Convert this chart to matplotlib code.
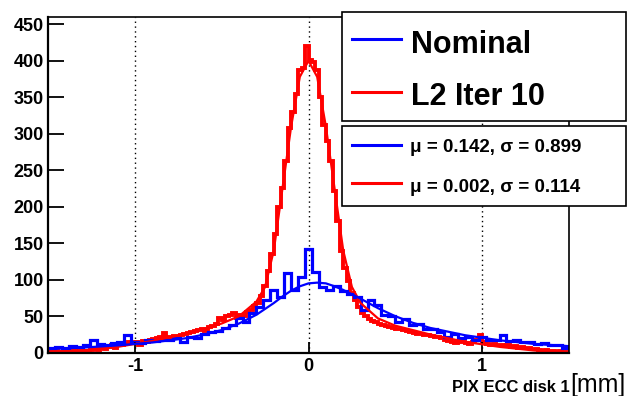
import matplotlib
matplotlib.use('Agg')
import matplotlib.pyplot as plt
from matplotlib.patches import Rectangle
from matplotlib.lines import Line2D
import numpy as np

plt.rcParams['font.family'] = ['Liberation Sans', 'DejaVu Sans']
plt.rcParams['axes.unicode_minus'] = False

# histogram range
x_lo, x_hi = -1.5, 1.5

# L2 Iter 10: 150 bins of 0.02 mm (rows of 10 bins = 0.2 mm)
red_counts = [
    2, 1, 2, 1, 0, 2, 1, 3, 1, 2,
    3, 2, 4, 5, 4, 6, 5, 8, 10, 7,
    11, 10, 12, 14, 13, 15, 11, 16, 15, 17,
    19, 20, 22, 27, 21, 20, 23, 22, 24, 25,
    27, 28, 30, 31, 33, 30, 35, 37, 40, 48,
    45, 50, 52, 55, 48, 52, 50, 56, 58, 64,
    68, 78, 92, 112, 135, 162, 200, 225, 262, 308,
    330, 355, 388, 390, 420, 401, 398, 388, 350, 312,
    290, 262, 222, 180, 140, 116, 98, 82, 72, 62,
    55, 50, 46, 44, 42, 40, 38, 36, 35, 34,
    33, 32, 31, 30, 28, 27, 26, 25, 24, 24,
    23, 22, 21, 20, 18, 16, 14, 13, 15, 14,
    13, 12, 14, 18, 24, 14, 12, 11, 12, 10,
    10, 9, 10, 8, 9, 7, 8, 6, 7, 5,
    5, 4, 3, 4, 2, 3, 1, 2, 1, 1,
]

# Nominal: 75 bins of 0.04 mm (rows of 5 bins = 0.2 mm)
blue_counts = [
    6, 8, 7, 9, 8,
    10, 17, 12, 11, 13,
    14, 24, 15, 13, 17,
    16, 18, 17, 20, 14,
    22, 20, 26, 28, 30,
    34, 38, 47, 42, 55,
    63, 72, 86, 76, 109,
    86, 104, 142, 110, 90,
    86, 92, 85, 80, 76,
    59, 72, 66, 52, 50,
    42, 46, 38, 40, 32,
    33, 28, 22, 26, 20,
    21, 18, 22, 17, 17,
    24, 16, 17, 14, 15,
    12, 13, 10, 10, 7,
]

# fitted curves
blue_fit_x = [-1.5, -1.3, -1.1, -0.9, -0.7, -0.6, -0.5, -0.4, -0.3, -0.25, -0.2, -0.15, -0.1,
              -0.05, 0.0, 0.05, 0.1, 0.15, 0.2, 0.25, 0.3, 0.4, 0.5, 0.6, 0.7, 0.9, 1.1, 1.3, 1.5]
blue_fit_y = [5, 7, 10, 14, 20, 25, 31, 40, 52, 60, 68, 77, 85,
              91, 95, 96, 95, 91, 86, 80, 74, 61, 50, 41, 34, 24, 17, 12, 9]
red_fit_x = [-1.5, -1.3, -1.1, -0.9, -0.7, -0.5, -0.4, -0.3, -0.25, -0.2, -0.15, -0.1, -0.05,
             0.0, 0.05, 0.1, 0.15, 0.2, 0.25, 0.3, 0.4, 0.5, 0.7, 0.9, 1.1, 1.3, 1.5]
red_fit_y = [1, 3, 8, 16, 26, 40, 50, 70, 90, 140, 225, 310, 378,
             400, 378, 310, 225, 140, 90, 68, 47, 37, 25, 15, 8, 3, 1]

labels = ['Nominal', 'L2 Iter 10']
stats = ['μ = 0.142, σ = 0.899', 'μ = 0.002, σ = 0.114']
colors = ['blue', 'red']

W, H = 629, 396
fig = plt.figure(figsize=(W / 100, H / 100), dpi=100)
ax = fig.add_axes([48 / W, 1 - 352.7 / H, (569 - 48) / W, (352.7 - 17) / H])

red_edges = np.linspace(x_lo, x_hi, len(red_counts) + 1)
blue_edges = np.linspace(x_lo, x_hi, len(blue_counts) + 1)
ax.stairs(red_counts, red_edges, color='red', lw=2.8, baseline=None)
ax.plot(red_fit_x, red_fit_y, color='red', lw=1.6)
ax.stairs(blue_counts, blue_edges, color='blue', lw=2.3, baseline=None)
ax.plot(blue_fit_x, blue_fit_y, color='blue', lw=1.6)

ax.set_xlim(x_lo, x_hi)
ax.set_ylim(0, 460)
ax.set_xticks([-1, 0, 1])
ax.set_yticks(np.arange(0, 451, 50))
for xv in [-1, 0, 1]:
    ax.axvline(xv, color='black', ls=(0, (1, 2.5)), lw=1.0, zorder=0)
ax.tick_params(axis='y', direction='in', length=11.5, width=1.3, labelsize=13, pad=3)
ax.tick_params(axis='x', direction='in', length=8, width=1.3, labelsize=13, pad=4)
for lab in ax.get_xticklabels() + ax.get_yticklabels():
    lab.set_fontweight('bold')
for sp in ax.spines.values():
    sp.set_linewidth(1.2)
ax.spines['left'].set_linewidth(1.6)
ax.spines['bottom'].set_linewidth(1.6)


def fx(px):
    return px / W


def fy(py):
    return 1 - py / H


# legend boxes drawn on the figure
for (top, bot) in [(12, 121), (126, 206)]:
    fig.add_artist(Rectangle((fx(342), fy(bot)), (626 - 342) / W, (bot - top) / H,
                             transform=fig.transFigure, fc='white', ec='black', lw=1.2, zorder=5))

for lab, col, ly, by in zip(labels, colors, [39, 92], [53, 105]):
    fig.add_artist(Line2D([fx(352), fx(401)], [fy(ly), fy(ly)], color=col, lw=2.2,
                          transform=fig.transFigure, zorder=6))
    fig.text(fx(411), fy(by), lab, fontsize=22, fontweight='bold', va='baseline', zorder=6)

for st, col, ly, by in zip(stats, colors, [145, 183], [151.5, 191.5]):
    fig.add_artist(Line2D([fx(352), fx(401)], [fy(ly), fy(ly)], color=col, lw=2.2,
                          transform=fig.transFigure, zorder=6))
    fig.text(fx(410), fy(by), st, fontsize=13.5, fontweight='bold', va='baseline', zorder=6)

fig.text(fx(570), fy(392), 'PIX ECC disk 1', fontsize=12, fontweight='bold',
         ha='right', va='baseline')
fig.text(fx(570), fy(392), '[mm]', fontsize=18, ha='left', va='baseline')

fig.savefig('out.png', dpi=100)
